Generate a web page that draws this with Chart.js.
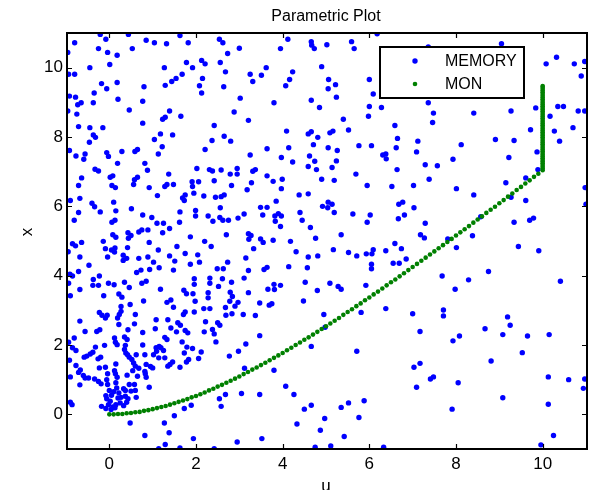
<!DOCTYPE html>
<html>
<head>
<meta charset="utf-8">
<title>Parametric Plot</title>
<script src="https://cdn.jsdelivr.net/npm/chart.js@4.4.1/dist/chart.umd.min.js"></script>
<style>
    html, body { margin: 0; padding: 0; background: #fff; }
</style>
</head>
<body>
<canvas id="graficoParametrico" width="592" height="490"></canvas>
<script>
// Dados
const tituloGrafico = 'Parametric Plot';
const rotuloX = 'u';
const rotuloY = 'x';
const tickValues = [0, 2, 4, 6, 8, 10];

// MEMORY: pares [u, x]
const memoryPts = [
    [-0.21,10.96],[-0.08,10.82],[0.44,10.96],[1.63,10.93],[2.54,10.82],[2.62,10.72],[-0.80,10.72],[0.85,10.79],[1.04,10.72],[1.32,10.69],
    [1.82,10.72],[-0.25,10.55],[-0.04,10.44],[0.53,10.55],[3.00,10.56],[-0.96,10.44],[0.18,10.36],[2.73,10.41],[0.01,10.09],[-0.45,10.00],
    [1.27,10.00],[1.78,10.15],[1.92,10.00],[2.13,10.21],[2.21,10.11],[2.56,10.15],[-0.94,9.81],[-0.80,9.81],[2.68,9.88],[1.68,9.81],
    [1.54,9.69],[1.44,9.60],[2.15,9.69],[-0.18,9.54],[0.18,9.57],[-0.06,9.39],[0.80,9.45],[1.29,9.49],[2.08,9.48],[2.64,9.45],
    [2.13,9.27],[-0.35,9.27],[-0.92,9.18],[-0.78,9.15],[0.20,9.09],[0.77,9.03],[-0.37,8.99],[-0.65,8.99],[-0.73,8.93],[3.02,9.12],
    [0.46,8.78],[1.39,8.75],[1.29,8.57],[1.23,8.51],[1.65,8.60],[-0.96,8.75],[-0.75,8.66],[2.88,8.72],[0.77,8.40],[2.42,8.33],
    [-0.71,8.30],[-0.45,8.27],[-0.15,8.27],[-0.37,8.06],[-0.32,7.99],[1.18,8.09],[1.46,8.06],[1.04,7.93],[-0.46,7.85],[2.37,7.90],
    [2.65,8.02],[2.80,7.88],[1.22,7.72],[-0.92,7.61],[0.65,7.64],[0.59,7.58],[0.29,7.58],[-0.06,7.55],[-0.02,7.44],[-0.56,7.51],
    [-0.77,7.45],[-0.59,7.36],[1.13,7.51],[2.21,7.64],[0.19,7.24],[0.82,7.24],[-0.33,7.07],[-0.25,7.02],[0.88,7.04],[2.02,7.09],
    [2.31,7.06],[2.38,7.02],[2.58,7.05],[2.95,7.09],
    [4.12,10.82],[4.66,10.75],[4.67,10.65],[4.73,10.55],[5.02,10.66],[5.59,10.75],[5.65,10.55],[6.18,10.98],[3.95,10.55],[3.62,10.00],
    [3.25,9.81],[3.51,9.78],[3.31,9.60],[4.23,9.88],[4.16,9.66],[4.07,9.48],[4.90,10.03],[5.06,9.66],[5.22,9.51],[5.05,9.39],
    [5.24,9.15],[6.00,9.66],[6.09,9.24],[3.80,8.99],[4.66,9.06],[4.85,8.85],[6.00,8.88],[6.28,8.85],[5.98,8.60],[3.21,8.48],
    [5.40,8.51],[6.59,8.33],[4.09,8.17],[4.59,8.09],[4.66,8.15],[4.81,7.99],[5.09,8.12],[5.16,8.17],[5.52,8.20],[6.65,7.96],
    [4.71,7.78],[3.64,7.66],[4.14,7.69],[5.05,7.69],[5.26,7.61],[5.76,7.75],[6.05,7.75],[6.62,7.69],[3.25,7.48],[3.97,7.41],
    [4.62,7.45],[4.23,7.28],[4.74,7.30],[5.24,7.31],[6.31,7.48],[6.38,7.51],[6.39,7.37],[4.59,7.15],[4.78,7.06],[5.14,7.12],
    [3.37,7.06],[3.31,7.01],[6.64,7.06],
    [9.05,10.69],[10.08,10.11],[10.32,10.30],[10.73,10.11],[10.97,10.18],[10.89,9.76],[7.36,10.60],[7.36,8.99],[7.48,8.69],[7.46,8.42],
    [8.41,8.69],[9.27,8.75],[9.84,8.84],[10.17,8.60],[10.35,8.88],[10.48,8.88],[10.82,8.75],[10.97,8.75],[9.72,8.21],[10.27,8.17],
    [10.70,8.27],[7.12,7.88],[7.09,7.57],[8.12,7.78],[8.91,7.93],[9.34,7.90],[10.39,7.88],[9.87,7.57],[9.22,7.41],[7.93,7.36],
    [7.29,7.20],[7.57,7.17],[9.89,7.06],
    [-0.64,6.82],[-0.71,6.60],[0.02,6.84],[0.08,6.88],[0.06,6.60],[0.14,6.54],[0.58,6.77],[0.65,6.84],[0.56,6.63],[1.37,6.93],
    [0.92,6.54],[1.28,6.57],[1.33,6.63],[1.48,6.63],[1.11,6.31],[1.91,6.71],[2.06,6.71],[1.92,6.57],[1.95,6.38],[1.75,6.33],
    [1.69,6.24],[1.73,6.17],[2.18,6.30],[2.79,6.93],[2.95,6.93],[2.42,6.74],[2.82,6.60],[2.45,6.26],[2.58,6.28],[2.65,6.33],
    [2.56,5.96],[-0.90,6.17],[-0.68,6.23],[-0.40,6.09],[-0.34,5.99],[0.10,6.12],[-0.71,5.82],[-0.81,5.60],[-0.21,5.84],[0.15,5.87],
    [0.06,5.54],[0.13,5.60],[0.51,5.93],[0.77,5.75],[0.98,5.68],[1.10,5.51],[1.25,5.51],[1.63,5.84],[1.62,5.54],[1.99,5.88],
    [1.99,5.72],[2.28,5.72],[2.39,5.57],[2.55,5.68],[2.62,5.60],[2.75,5.60],[2.97,5.66],[1.39,5.36],[1.23,5.24],[0.89,5.32],
    [0.75,5.32],[0.68,5.26],[0.43,5.24],[0.50,5.16],[0.44,5.08],[0.08,5.18],[0.15,5.11],[-0.14,4.99],[-0.85,4.92],[-0.78,4.86],
    [-0.64,4.96],[-0.95,4.69],[-0.09,4.78],[0.05,4.74],[0.13,4.80],[0.12,4.68],[0.42,4.81],[0.92,4.96],[1.13,4.74],[1.56,4.84],
    [1.87,5.12],[2.20,4.99],[2.35,4.84],[2.70,5.18],[-0.68,4.54],[-0.04,4.54],[0.32,4.59],[0.32,4.44],[0.40,4.50],[0.68,4.50],
    [0.89,4.54],[1.02,4.39],[1.39,4.57],[1.51,4.42],[1.75,4.64],[2.04,4.60],[1.87,4.33],[2.08,4.39],[2.73,4.39],[-0.47,4.30],
    [-0.71,4.12],[-0.91,4.04],[-0.85,3.99],[0.63,4.09],[0.73,4.16],[0.93,4.18],[1.15,4.23],[1.48,4.16],[2.49,4.20],[2.63,4.20],
    [-0.37,3.89],[-0.23,3.99],[-0.38,3.72],[-0.25,3.72],[-0.94,3.78],[-0.02,3.78],[0.11,3.74],[0.35,3.81],[0.46,3.66],[0.75,3.78],
    [0.85,3.84],[1.18,3.61],[1.96,3.91],[1.96,3.75],[2.32,3.93],[2.32,3.78],[2.61,3.91],[2.52,3.69],[2.82,3.81],[-0.68,3.60],
    [-0.90,3.42],[-0.13,3.42],[0.22,3.47],[0.29,3.38],[0.79,3.27],[0.27,3.11],[0.48,3.17],[1.33,3.23],[1.42,3.30],[1.48,3.09],
    [1.72,3.58],[1.78,3.48],[1.93,3.48],[2.28,3.51],[2.28,3.36],[1.98,3.26],[2.18,3.05],[2.32,3.05],[2.68,3.08],[2.79,3.52],
    [2.84,3.40],[2.78,3.26],[2.90,3.12],[2.97,3.23],
    [3.64,6.88],[3.78,6.72],[3.99,6.78],[3.28,6.68],[3.18,6.48],[3.97,6.51],[4.90,6.78],[5.19,6.75],[5.69,6.93],[5.95,6.60],
    [6.52,6.57],[7.02,6.60],[4.38,6.33],[4.59,6.36],[3.85,6.15],[3.49,5.97],[3.64,5.97],[3.11,5.78],[3.54,5.75],[3.82,5.72],
    [3.90,5.79],[3.97,5.72],[3.83,5.57],[3.95,5.42],[4.92,6.00],[5.05,6.12],[5.14,6.06],[5.04,5.96],[4.40,5.82],[4.45,5.60],
    [5.19,5.82],[5.62,5.78],[6.02,5.75],[5.95,5.54],[6.68,6.06],[6.77,6.12],[7.03,5.96],[6.81,5.75],[6.67,5.64],[4.64,5.39],
    [3.21,5.21],[3.27,5.16],[3.22,5.05],[3.49,5.06],[3.55,4.96],[3.78,5.02],[4.18,4.99],[4.76,5.08],[5.35,5.18],[3.33,4.78],
    [4.31,4.69],[5.17,4.75],[5.52,4.67],[5.71,4.57],[5.93,4.63],[6.06,4.63],[6.09,4.75],[6.38,4.72],[6.59,4.93],[6.74,4.78],
    [3.15,4.51],[4.59,4.54],[4.81,4.57],[6.85,4.48],[6.55,4.36],[6.69,4.36],[6.05,4.33],[6.05,4.20],[3.21,4.15],[3.57,4.18],
    [3.64,4.24],[4.14,4.26],[4.57,4.23],[3.11,3.93],[4.52,3.81],[5.09,3.78],[5.28,3.69],[5.35,3.61],[4.80,3.57],[5.92,3.72],
    [3.66,3.61],[3.80,3.75],[3.81,3.60],[3.95,3.72],[3.21,3.51],[4.48,3.27],[3.47,3.21],[3.69,3.15],[3.75,3.19],[6.38,3.05],
    [7.38,6.78],[8.01,6.51],[8.41,6.33],[9.15,6.68],[9.61,6.82],[9.61,6.17],[9.27,6.26],[10.98,6.54],[11.00,6.06],[7.29,5.51],
    [7.18,5.18],[7.27,5.09],[7.81,5.06],[8.38,5.15],[8.01,4.81],[8.57,5.70],[9.34,5.54],[9.70,5.60],[9.79,5.66],[9.44,4.84],
    [9.91,4.72],[7.68,3.99],[8.29,3.88],[7.98,3.61],[8.75,4.12],[10.41,3.84],[7.71,3.01],
    [-0.23,2.94],[-0.17,2.86],[-0.05,2.86],[-0.09,2.78],[-0.68,2.69],[-0.56,2.39],[-0.29,2.39],[-0.22,2.44],[0.19,2.78],[0.23,2.88],
    [0.27,2.97],[0.60,2.88],[0.58,2.61],[0.22,2.59],[0.43,2.44],[0.77,2.36],[0.12,2.20],[0.35,2.23],[0.41,2.16],[0.14,2.08],
    [0.18,2.01],[-0.94,2.08],[-0.81,2.20],[-0.85,1.92],[-0.77,1.84],[-0.11,1.99],[-0.32,1.94],[-0.38,1.79],[-0.44,1.74],[-0.58,1.65],
    [-0.52,1.68],[-0.20,1.65],[-0.26,1.60],[-0.92,1.56],[-0.77,1.41],[-0.67,1.28],[-0.71,1.21],[-0.90,1.08],[-0.60,1.12],[-0.56,1.05],
    [-0.48,1.05],[-0.68,0.85],[-0.34,1.02],[-0.25,0.95],[-0.19,0.88],[-0.06,1.00],[-0.04,0.86],[-0.23,1.34],[-0.09,1.36],[0.12,1.26],
    [0.14,1.17],[0.18,1.07],[0.15,0.91],[0.17,0.76],[0.00,0.69],[0.10,0.65],[0.05,0.55],[0.22,0.62],[0.33,0.74],[0.37,0.69],
    [0.27,0.49],[0.37,0.52],[0.43,0.45],[0.50,0.67],[0.60,0.69],[0.62,0.49],[0.40,0.35],[0.25,0.33],[0.33,0.25],[0.15,0.28],
    [0.08,0.21],[-0.02,0.28],[-0.06,0.45],[0.02,0.38],[-0.08,0.17],[0.04,0.14],[-0.18,0.23],[0.13,0.19],[-0.08,0.54],[0.20,0.47],
    [-0.90,0.35],[-0.86,0.28],[0.35,1.87],[0.38,1.77],[0.42,1.72],[0.46,1.65],[0.52,1.58],[0.56,1.48],[0.60,1.39],[0.54,1.26],
    [0.41,1.13],[0.46,0.86],[0.58,0.86],[0.65,1.10],[0.68,1.33],[0.83,1.17],[0.85,1.07],[0.92,0.78],[0.82,1.24],[0.85,1.44],
    [0.95,1.38],[1.00,1.34],[0.77,2.00],[0.82,1.72],[1.02,1.72],[1.09,1.82],[1.15,1.96],[1.19,1.92],[1.25,1.84],[1.08,1.92],
    [1.28,1.63],[1.14,1.63],[1.06,2.47],[1.28,2.22],[1.33,2.16],[1.08,2.73],[1.35,2.73],[1.42,2.49],[1.71,2.88],[1.75,2.95],
    [1.96,2.95],[1.58,2.64],[1.64,2.57],[1.55,2.38],[1.75,2.42],[1.81,2.35],[1.68,2.09],[1.79,1.94],[1.92,1.90],[1.73,1.77],
    [1.83,1.58],[1.78,1.51],[1.63,1.36],[1.46,1.51],[1.40,1.44],[1.35,1.39],[2.12,1.80],[2.06,1.61],[2.22,2.67],[2.50,2.64],
    [2.55,2.57],[2.19,2.38],[2.38,2.45],[2.42,2.32],[2.46,2.09],[2.69,2.86],[2.83,2.90],[2.98,1.82],[2.77,1.68],[2.54,0.45],
    [2.58,0.23],[2.68,0.57],[1.73,0.17],[1.89,0.26],[1.50,-0.04],[1.27,-0.25],[1.38,-0.53],[0.82,-0.61],[0.48,-0.25],[1.29,-0.87],
    [1.94,-0.70],[1.63,-0.97],[1.14,-0.99],[2.42,-0.99],[2.95,-0.80],[0.37,1.99],[0.62,1.72],[0.15,1.45],[-0.04,1.17],
    [3.09,2.88],[3.37,2.85],[4.95,2.88],[5.81,2.94],[7.00,2.90],[3.47,2.27],[3.15,2.03],[4.66,1.96],[4.98,2.51],[5.71,1.82],
    [3.12,1.33],[3.80,1.27],[4.07,0.81],[4.26,0.57],[3.05,0.60],[3.47,0.57],[4.50,0.15],[4.66,0.26],[5.35,0.20],[5.52,0.33],
    [5.88,0.39],[4.97,-0.12],[5.76,-0.09],[4.33,-0.28],[4.87,-0.46],[5.42,-0.64],[3.52,-0.70],[4.75,-0.95],[5.11,-0.91],[6.33,-0.95],
    [7.71,2.84],[9.19,2.81],[9.25,2.57],[7.17,2.39],[8.08,2.26],[7.93,2.12],[8.67,2.47],[9.08,2.30],[9.65,2.26],[10.15,2.30],
    [9.53,1.78],[8.81,1.54],[7.17,1.47],[7.03,1.36],[7.41,1.02],[7.48,1.08],[7.09,0.78],[8.05,0.91],[10.13,1.08],[10.60,1.00],
    [10.97,1.02],[10.94,0.75],[9.08,0.48],[10.13,0.29],[7.91,0.15],[10.25,-0.61],[9.96,-0.88]
];

// MON: curva até u = 10 e depois subida em u = 10
const monCurveU = [
    0.0,0.1,0.2,0.3,0.4,0.5,0.6,0.7,0.8,0.9,1.0,1.1,1.2,1.3,1.4,1.5,1.6,1.7,1.8,1.9,
    2.0,2.1,2.2,2.3,2.4,2.5,2.6,2.7,2.8,2.9,3.0,3.1,3.2,3.3,3.4,3.5,3.6,3.7,3.8,3.9,
    4.0,4.1,4.2,4.3,4.4,4.5,4.6,4.7,4.8,4.9,5.0,5.1,5.2,5.3,5.4,5.5,5.6,5.7,5.8,5.9,
    6.0,6.1,6.2,6.3,6.4,6.5,6.6,6.7,6.8,6.9,7.0,7.1,7.2,7.3,7.4,7.5,7.6,7.7,7.8,7.9,
    8.0,8.1,8.2,8.3,8.4,8.5,8.6,8.7,8.8,8.9,9.0,9.1,9.2,9.3,9.4,9.5,9.6,9.7,9.8,9.9,10.0
];
const monCurveX = [
    0.00,0.00,0.01,0.01,0.03,0.04,0.06,0.07,0.10,0.12,0.15,0.18,0.21,0.24,0.28,0.32,0.36,0.40,0.44,0.49,
    0.53,0.58,0.63,0.69,0.74,0.80,0.85,0.91,0.97,1.03,1.09,1.16,1.22,1.29,1.35,1.42,1.49,1.56,1.63,1.70,
    1.77,1.85,1.92,2.00,2.07,2.15,2.22,2.30,2.38,2.46,2.54,2.62,2.70,2.78,2.87,2.95,3.03,3.12,3.20,3.29,
    3.37,3.46,3.54,3.63,3.72,3.81,3.89,3.98,4.07,4.16,4.25,4.34,4.43,4.52,4.61,4.70,4.79,4.88,4.97,5.06,
    5.16,5.25,5.34,5.43,5.53,5.62,5.71,5.81,5.90,5.99,6.09,6.18,6.28,6.37,6.47,6.56,6.66,6.75,6.85,6.94,7.04
];
const monHoldU = 10;
const monHoldX = [
    7.09,7.14,7.19,7.24,7.29,7.34,7.39,7.44,7.49,7.54,7.59,7.64,7.69,7.74,7.79,7.84,7.89,7.94,7.99,8.04,
    8.09,8.14,8.19,8.24,8.29,8.34,8.39,8.44,8.49,8.54,8.59,8.64,8.69,8.74,8.79,8.84,8.89,8.94,8.99,9.04,
    9.09,9.14,9.19,9.24,9.29,9.34,9.39,9.44,9.47
];

const dadosMemory = memoryPts.map(p => ({ x: p[0], y: p[1] }));
const dadosMon = monCurveU.map((u, i) => ({ x: u, y: monCurveX[i] }))
    .concat(monHoldX.map(v => ({ x: monHoldU, y: v })));

const fonte = "'Liberation Sans', Arial, Helvetica, sans-serif";

// moldura estilo MATLAB, título, rótulos e legenda dentro do gráfico
const molduraPlugin = {
    id: 'moldura',
    afterDraw(chart) {
        const { ctx, chartArea: a } = chart;
        const sx = chart.scales.x;
        const sy = chart.scales.y;
        ctx.save();
        ctx.strokeStyle = '#000';
        ctx.lineWidth = 2;
        ctx.strokeRect(a.left + 1, a.top, a.right - a.left, a.bottom - a.top);

        ctx.lineWidth = 1.2;
        ctx.beginPath();
        tickValues.forEach(v => {
            const px = Math.round(sx.getPixelForValue(v)) + 0.5;
            ctx.moveTo(px, a.bottom); ctx.lineTo(px, a.bottom - 5);
            ctx.moveTo(px, a.top); ctx.lineTo(px, a.top + 5);
            const py = Math.round(sy.getPixelForValue(v)) + 0.5;
            ctx.moveTo(a.left + 1, py); ctx.lineTo(a.left + 6, py);
            ctx.moveTo(a.right + 1, py); ctx.lineTo(a.right - 4, py);
        });
        ctx.stroke();

        ctx.fillStyle = '#000';
        ctx.textAlign = 'center';
        ctx.textBaseline = 'alphabetic';
        ctx.font = '16px ' + fonte;
        ctx.fillText(tituloGrafico, (a.left + a.right) / 2, 21);
        ctx.font = '17px ' + fonte;
        ctx.fillText(rotuloX, (a.left + a.right) / 2, 491);
        ctx.save();
        ctx.translate(27, 232);
        ctx.rotate(-Math.PI / 2);
        ctx.textBaseline = 'middle';
        ctx.fillText(rotuloY, 0, 0);
        ctx.restore();

        // legenda
        const lx = a.right - 206, ly = a.top + 14, lw = 144, lh = 51;
        ctx.fillStyle = '#fff';
        ctx.fillRect(lx, ly, lw, lh);
        ctx.lineWidth = 2;
        ctx.strokeRect(lx, ly, lw, lh);
        chart.data.datasets.forEach((ds, i) => {
            const cy = ly + 14 + i * 23;
            ctx.fillStyle = ds.backgroundColor;
            ctx.beginPath();
            ctx.arc(lx + 35, cy, ds.pointRadius, 0, Math.PI * 2);
            ctx.fill();
            ctx.fillStyle = '#000';
            ctx.textAlign = 'left';
            ctx.textBaseline = 'middle';
            ctx.font = '16px ' + fonte;
            ctx.fillText(ds.label, lx + 65, cy + 1);
        });
        ctx.restore();
    }
};

const eixo = (larguraAltura) => ({
    type: 'linear',
    min: -1,
    max: 11,
    grid: { display: false, drawTicks: false },
    border: { display: false },
    afterBuildTicks: s => { s.ticks = tickValues.map(v => ({ value: v })); },
    afterFit: s => {
        if (s.isHorizontal()) s.height = larguraAltura; else s.width = larguraAltura;
    }
});

const ctxGrafico = document.getElementById('graficoParametrico').getContext('2d');
new Chart(ctxGrafico, {
    type: 'scatter',
    data: {
        datasets: [
            { label: 'MEMORY', data: dadosMemory, backgroundColor: '#0000ff', pointRadius: 2.7, borderWidth: 0, clip: 0, order: 1 },
            { label: 'MON', data: dadosMon, backgroundColor: '#008000', pointRadius: 2.3, borderWidth: 0, clip: 0, order: 0 }
        ]
    },
    options: {
        responsive: false,
        animation: false,
        events: [],
        layout: { padding: { left: 0, right: 6, top: 33, bottom: 0 } },
        plugins: { legend: { display: false }, tooltip: { enabled: false }, title: { display: false } },
        scales: {
            x: Object.assign(eixo(41), {
                position: 'bottom',
                ticks: { color: '#000', font: { size: 17, family: fonte }, padding: 5, maxRotation: 0 }
            }),
            y: Object.assign(eixo(66), {
                position: 'left',
                ticks: { color: '#000', font: { size: 17, family: fonte }, padding: 3 }
            })
        }
    },
    plugins: [molduraPlugin]
});
</script>
</body>
</html>
